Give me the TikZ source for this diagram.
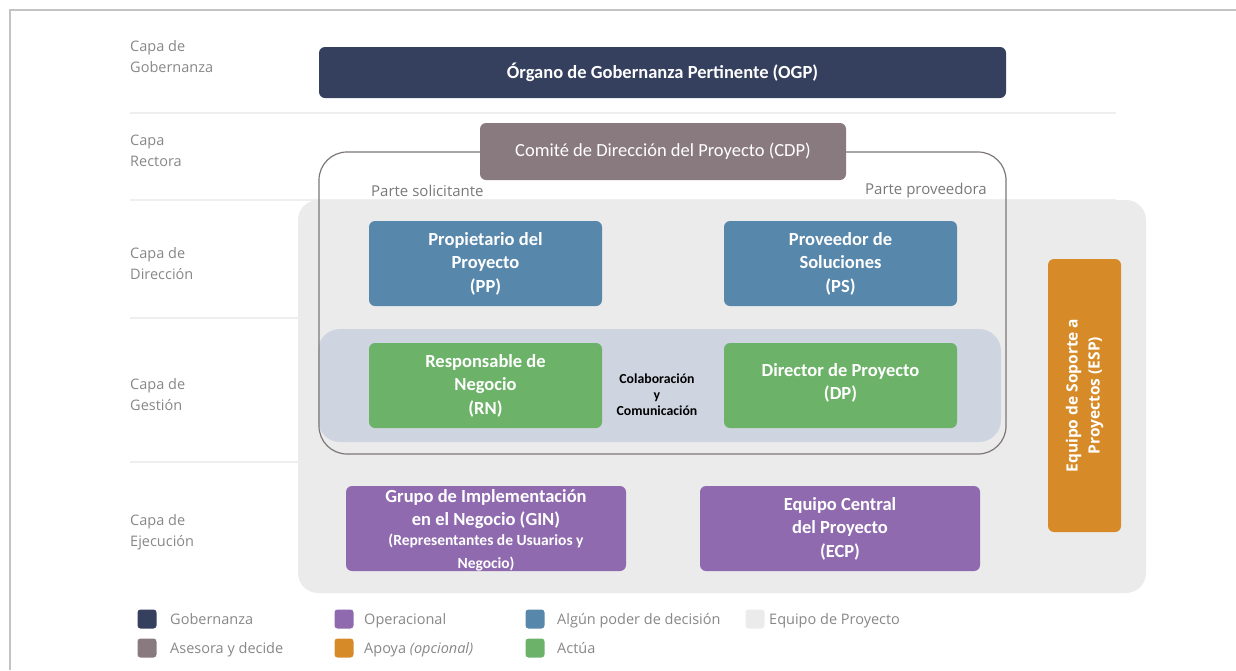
\documentclass[tikz,border=0pt]{standalone}
\usepackage{fontspec}
\setmainfont{Carlito}
\newfontfamily\lblfont{Open Sans}
\newcommand\ginsmall{\fontsize{15.5}{20}\selectfont}
\definecolor{cGob}{RGB}{53,63,94}
\definecolor{cAse}{RGB}{137,122,128}
\definecolor{cDec}{RGB}{88,135,172}
\definecolor{cAct}{RGB}{108,178,104}
\definecolor{cOpe}{RGB}{143,106,174}
\definecolor{cApo}{RGB}{214,139,40}
\definecolor{cEqu}{RGB}{236,235,236}
\definecolor{cGes}{RGB}{207,213,224}
\definecolor{cTxt}{RGB}{135,135,135}
\definecolor{cOut}{RGB}{125,118,118}
\definecolor{cSep}{RGB}{238,238,238}
\definecolor{cFrame}{RGB}{195,195,195}
\tikzset{
  role/.style={rounded corners=6pt, inner sep=0pt, align=center, text=white,
    font=\bfseries\fontsize{18.5}{23.5}\selectfont},
  layer/.style={anchor=west, align=left, text=cTxt, inner sep=0pt,
    font=\lblfont\fontsize{14.5}{21}\selectfont},
  legsq/.style={rounded corners=3pt, minimum width=19pt, minimum height=19pt, inner sep=0pt},
  legtx/.style={anchor=base west, text=cTxt, inner sep=0pt, font=\lblfont\fontsize{14.5}{16}\selectfont},
  sep/.style={draw=cSep, line width=1.5pt},
}
\begin{document}
\begin{tikzpicture}[x=1pt,y=-1pt]
\useasboundingbox (0,0) rectangle (1236,670);
% frame
\draw[cFrame, line width=2pt] (10,670) -- (10,10) -- (1236,10);
% separators
\foreach \yy in {113,200,318,462} \draw[sep] (130,\yy) -- (1116,\yy);
% layer labels
\node[layer] (lg) at (130,57) {Capa de\\Gobernanza};
\node[layer] (lr) at (130,151) {Capa\\Rectora};
\node[layer] (ld) at (130,264) {Capa de\\Dirección};
\node[layer] (lge) at (130,395) {Capa de\\Gestión};
\node[layer] (le) at (130,532) {Capa de\\Ejecución};
% OGP
\node[role, fill=cGob, minimum width=687pt, minimum height=51pt] (ogp) at (662.5,72.5) {Órgano de Gobernanza Pertinente (OGP)};
% project team panel
\fill[cEqu, rounded corners=20pt] (298,200) rectangle (1146,593);
% management panel
\fill[cGes, rounded corners=22pt] (318,329) rectangle (1001,442);
% outline
\draw[cOut, line width=1.2pt, rounded corners=28pt] (319,152) rectangle (1006,454);
% CDP
\node[role, fill=cAse, minimum width=366pt, minimum height=57pt, font=\fontsize{18.5}{22}\selectfont] (cdp) at (663,151.5) {Comité de Dirección del Proyecto (CDP)};
\node[anchor=west, inner sep=0pt, text=cTxt!90!black, font=\lblfont\fontsize{15}{15}\selectfont] (sol) at (371,191) {Parte solicitante};
\node[anchor=east, inner sep=0pt, text=cTxt!90!black, font=\lblfont\fontsize{15}{15}\selectfont] (pro) at (987,191) {Parte proveedora};
% direction
\node[role, fill=cDec, minimum width=233pt, minimum height=85pt] (pp) at (485.5,263.5) {Propietario del\\Proyecto\\(PP)};
\node[role, fill=cDec, minimum width=233pt, minimum height=85pt] (ps) at (840.5,263.5) {Proveedor de\\Soluciones\\(PS)};
% management
\node[role, fill=cAct, minimum width=233pt, minimum height=85pt] (rn) at (485.5,385.5) {Responsable de\\Negocio\\(RN)};
\node[role, fill=cAct, minimum width=233pt, minimum height=85pt] (dp) at (840.5,385.5) {};
\node[role] (dptx) at (840.5,383) {Director de Proyecto\\(DP)};
\node[align=center, inner sep=0pt, font=\bfseries\fontsize{13.8}{16}\selectfont] (col) at (657,395) {Colaboración\\y\\Comunicación};
% execution
\node[role, fill=cOpe, minimum width=280pt, minimum height=85pt] (gin) at (486,528.5) {};
\node[align=center, inner sep=0pt, text=white, font=\bfseries\fontsize{18.5}{23}\selectfont] (gintx) at (486,530) {Grupo de Implementación\\en el Negocio (GIN)\\[-3pt]\ginsmall (Representantes de Usuarios y\\\ginsmall Negocio)};
\node[role, fill=cOpe, minimum width=280pt, minimum height=85pt] (ecp) at (840,528.5) {Equipo Central\\del Proyecto\\(ECP)};
% ESP
\node[role, fill=cApo, minimum width=73pt, minimum height=273pt] (esp) at (1084.5,395.5) {};
\node[rotate=90, align=center, text=white, inner sep=0pt, font=\lblfont\bfseries\fontsize{15.5}{22}\selectfont] (esptx) at (esp.center) {Equipo de Soporte a\\Proyectos (ESP)};
% legend
\node[legsq, fill=cGob] (q1) at (147,619) {};
\node[legtx] (t1) at (170,624) {Gobernanza};
\node[legsq, fill=cAse] (q2) at (147,648) {};
\node[legtx] (t2) at (170,653) {Asesora y decide};
\node[legsq, fill=cOpe] (q3) at (344,619) {};
\node[legtx] (t3) at (364,624) {Operacional};
\node[legsq, fill=cApo] (q4) at (344,648) {};
\node[legtx] (t4) at (364,653) {Apoya \textit{(opcional)}};
\node[legsq, fill=cDec] (q5) at (535,619) {};
\node[legtx] (t5) at (557,624) {Algún poder de decisión};
\node[legsq, fill=cAct] (q6) at (535,648) {};
\node[legtx] (t6) at (557,653) {Actúa};
\node[legsq, fill=cEqu] (q7) at (755,619) {};
\node[legtx] (t7) at (769,624) {Equipo de Proyecto};
\end{tikzpicture}
\end{document}
